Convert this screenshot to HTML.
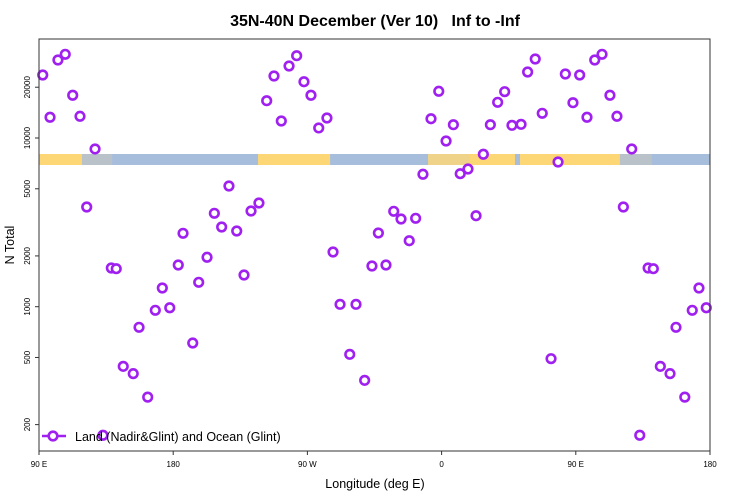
<!DOCTYPE html>
<html><head><meta charset="utf-8"><style>
body{margin:0;background:#fff;}
svg{display:block;font-family:"Liberation Sans",sans-serif;}
</style></head><body>
<svg id="chart" width="750" height="500">
<text x="375" y="26" text-anchor="middle" font-size="16" font-weight="bold" style="white-space:pre">35N-40N December (Ver 10)   Inf to -Inf</text>
<text x="375" y="488" text-anchor="middle" font-size="12.5">Longitude (deg E)</text>
<text transform="translate(14,245) rotate(-90)" text-anchor="middle" font-size="12.5">N Total</text>
<g id="band"></g>
<g id="xaxis"></g>
<g id="yaxis"></g>
<g id="series"></g>
<rect x="39" y="39" width="671" height="412" fill="none" stroke="#333" stroke-width="1"/>
<g>
<line x1="42" y1="436" x2="66" y2="436" stroke="#A020F0" stroke-width="2.5"/>
<circle cx="53" cy="436" r="4.3" fill="#fff" stroke="#A020F0" stroke-width="2.6"/>
<text x="75" y="441" font-size="12.5">Land (Nadir&amp;Glint) and Ocean (Glint)</text>
</g>
</svg>
<script>
const lons = [92.5,97.4,102.7,107.6,112.6,117.5,122,127.6,132.9,138.5,141.8,146.5,153.2,157.1,162.9,168,172.7,177.7,183.4,186.6,193.1,197.1,202.7,207.6,212.5,217.4,222.6,227.5,232.2,237.5,242.7,247.6,252.5,257.7,262.8,267.7,272.4,277.6,283.1,287.2,291.9,298.4,302.6,308.4,313.3,317.6,322.7,327.9,332.8,338.3,342.6,347.5,352.9,358.1,363,367.9,372.5,377.7,383.1,388,392.7,397.6,402.3,407.2,413.3,417.7,422.8,427.5,433.4,438.1,443,448.1,452.6,457.5,462.7,467.6,472.9,477.6,481.9,487.5,492.9,498.5,502,506.7,513.2,517.2,523.1,528.1,532.6,537.5];
const counts = [23630,13270,29000,31340,17920,13450,3900,8610,173,1696,1680,443,401,755,291,952,1291,986,1767,2723,609,1395,1963,3578,2968,5195,2810,1541,3692,4119,16640,23310,12610,26720,30750,21560,17920,11470,13140,2110,1033,522,1033,366,1743,2735,1767,3677,3311,2461,3342,6094,13010,18920,9600,11990,6144,6550,3462,8010,11990,16280,18820,11890,12050,24620,29390,14010,492,7206,23960,16190,23630,13270,29000,31340,17920,13450,3900,8610,173,1696,1680,443,401,755,291,952,1291,986];
const xTickVals = [90,180,270,360,450,540];
const xTickLabels = ["90 E","180","90 W","0","90 E","180"];
const yTickVals = [200,500,1000,2000,5000,10000,20000];
const yTickLabels = ["200","500","1000","2000","5000","10000","20000"];
// land/ocean band segments (longitude, continuous 90..540)
const bandStarts = [90,118.8,139,236.9,285.2,350.9,379,409.2,412.6,479.6,501];
const bandEnds =   [118.8,139,236.9,285.2,350.9,379,409.2,412.6,479.6,501,540];
const bandTypes =  ["land","mixocean","ocean","land","ocean","mixland","land","ocean","land","mixocean","ocean"];

const NS="http://www.w3.org/2000/svg";
function xs(lon){return 39+(lon-90)*1.4911;}
function ys(v){return 306.7-(Math.log10(v)-3)*168.7;}
function mk(tag,attrs,parent){const e=document.createElementNS(NS,tag);for(const k in attrs)e.setAttribute(k,attrs[k]);parent.appendChild(e);return e;}
const bandColors={land:'#FDD676',ocean:'#A7BDDC',mixland:'#EED389',mixocean:'#B9C2C9'};

const band=document.getElementById('band');
for(let i=0;i<bandStarts.length;i++){
  const r=mk('rect',{x:xs(bandStarts[i]),y:154,width:xs(bandEnds[i])-xs(bandStarts[i])+0.3,height:11,fill:bandColors[bandTypes[i]]},band);
  
  
}

const xa=document.getElementById('xaxis');
xTickVals.forEach((v,i)=>{
  const x=xs(v);
  const l=mk('line',{x1:x,y1:451,x2:x,y2:455,stroke:'#333'},xa);
  
  
  const t=mk('text',{x:x,y:467,'text-anchor':'middle','font-size':8},xa);
  t.textContent=xTickLabels[i];
  
  
});
const ya=document.getElementById('yaxis');
yTickVals.forEach((v,i)=>{
  const y=ys(v);
  const l=mk('line',{x1:35,y1:y,x2:39,y2:y,stroke:'#333'},ya);
  
  
  const t=mk('text',{x:0,y:0,'text-anchor':'middle','font-size':8,transform:`translate(30,${y}) rotate(-90)`},ya);
  t.textContent=yTickLabels[i];
  
  
});
const se=document.getElementById('series');
lons.forEach((lon,i)=>{
  const c=mk('circle',{cx:xs(lon),cy:ys(counts[i]),r:4.3,fill:'#fff',stroke:'#A020F0','stroke-width':2.6},se);
  
  
});
</script>
</body></html>
